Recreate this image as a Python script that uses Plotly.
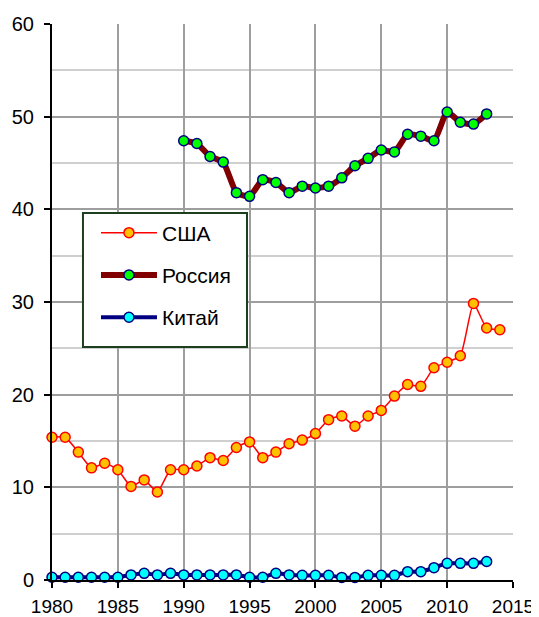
import plotly.graph_objects as go

years_usa = list(range(1980, 2015))
usa = [15.4, 15.4, 13.8, 12.1, 12.6, 11.9, 10.1, 10.8, 9.5, 11.9,
       11.9, 12.3, 13.2, 12.9, 14.3, 14.9, 13.2, 13.8, 14.7, 15.1,
       15.8, 17.3, 17.7, 16.6, 17.7, 18.3, 19.85, 21.1, 20.9, 22.9,
       23.5, 24.2, 29.85, 27.2, 27.0]

years_rus = list(range(1990, 2014))
russia = [47.4, 47.1, 45.7, 45.1, 41.8, 41.4, 43.2, 42.9, 41.8, 42.5,
          42.3, 42.5, 43.4, 44.7, 45.5, 46.4, 46.2, 48.1, 47.9, 47.4,
          50.5, 49.4, 49.2, 50.3]

years_chn = list(range(1980, 2014))
china = [0.3, 0.3, 0.3, 0.3, 0.3, 0.3, 0.55, 0.72, 0.55, 0.72,
         0.55, 0.55, 0.55, 0.55, 0.55, 0.3, 0.3, 0.72, 0.55, 0.5,
         0.5, 0.5, 0.28, 0.28, 0.5, 0.5, 0.5, 0.9, 0.9, 1.33,
         1.8, 1.8, 1.8, 2.0]

names = ["США", "Россия", "Китай"]
x_ticks = [1980, 1985, 1990, 1995, 2000, 2005, 2010, 2015]
y_ticks = [0, 10, 20, 30, 40, 50, 60]

FONT = "Liberation Sans, Arial, sans-serif"

fig = go.Figure()
fig.add_trace(go.Scatter(
    x=years_usa, y=usa, name=names[0], mode="lines+markers",
    line=dict(color="#FF0000", width=1.5, shape="spline", smoothing=0.5),
    marker=dict(size=10, color="#FFC000", line=dict(color="#FF0000", width=1.5)),
    cliponaxis=False, legendgroup="a"))
fig.add_trace(go.Scatter(
    x=years_rus, y=russia, name=names[1], mode="lines+markers",
    line=dict(color="#800000", width=6, shape="spline", smoothing=0.5),
    marker=dict(size=10, color="#00FF00", line=dict(color="#000080", width=1.5)),
    cliponaxis=False, legendgroup="b"))
fig.add_trace(go.Scatter(
    x=years_chn, y=china, name=names[2], mode="lines+markers",
    line=dict(color="#000080", width=4, shape="spline", smoothing=0.5),
    marker=dict(size=10, color="#00FFFF", line=dict(color="#000080", width=1.5)),
    cliponaxis=False, legendgroup="c"))

# legend frame (decoration)
fig.add_shape(type="rect", xref="paper", yref="paper",
              x0=0.0672, x1=0.423, y0=0.419, y1=0.660,
              line=dict(color="#1E3F1E", width=2), fillcolor="white",
              layer="above")

fig.update_layout(
    width=531, height=609,
    margin=dict(l=44, r=26, t=16, b=37, autoexpand=False),
    paper_bgcolor="white", plot_bgcolor="white",
    font=dict(family=FONT, size=19, color="black"),
    showlegend=True,
    legend=dict(
        x=0.0954, y=0.661, xanchor="left", yanchor="top",
        borderwidth=0, bgcolor="rgba(0,0,0,0)",
        font=dict(family=FONT, size=21, color="black"),
        traceorder="grouped", tracegroupgap=12, itemwidth=56,
    ),
    xaxis=dict(
        range=[1980, 2015], tickvals=x_ticks, ticks="outside", ticklen=6,
        tickwidth=2, tickcolor="black", showline=True, linecolor="black",
        linewidth=2, showgrid=True, gridcolor="#9E9E9E", gridwidth=2,
        zeroline=False, tickfont=dict(family=FONT, size=19), automargin=False,
        ticklabelstandoff=2,
    ),
    yaxis=dict(
        range=[0, 60], tickvals=y_ticks, ticks="outside", ticklen=6,
        tickwidth=2, tickcolor="black", showline=True, linecolor="black",
        linewidth=2, showgrid=True, gridcolor="#9E9E9E", gridwidth=2,
        zeroline=False, tickfont=dict(family=FONT, size=20), automargin=False,
        ticklabelstandoff=6,
        minor=dict(dtick=5, tick0=0, showgrid=True, gridcolor="#CFCFCF",
                   gridwidth=2, ticks=""),
    ),
)

fig.write_html("out.html")
